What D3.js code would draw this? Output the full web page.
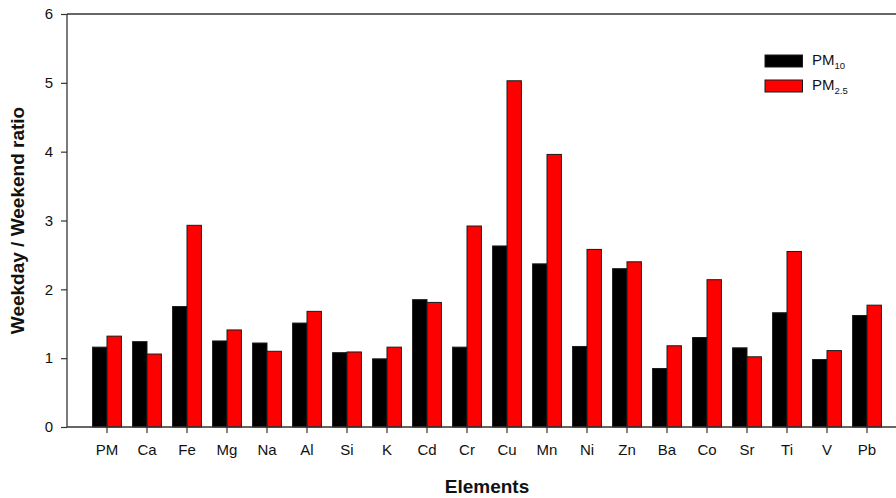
<!DOCTYPE html>
<html>
<head>
<meta charset="utf-8">
<script src="https://cdn.jsdelivr.net/npm/d3@7"></script>
<style>
  body { margin: 0; background: #fff; }
  svg { display: block; font-family: Arial, "Liberation Sans", sans-serif; }
</style>
</head>
<body>
<svg id="chart" width="896" height="498"></svg>
<script>
// Weekday / weekend concentration ratios per element
const elements = ["PM", "Ca", "Fe", "Mg", "Na", "Al", "Si", "K", "Cd", "Cr",
                  "Cu", "Mn", "Ni", "Zn", "Ba", "Co", "Sr", "Ti", "V", "Pb"];
const pm10 = [1.16, 1.24, 1.75, 1.25, 1.22, 1.51, 1.08, 0.99, 1.85, 1.16,
              2.63, 2.37, 1.17, 2.30, 0.85, 1.30, 1.15, 1.66, 0.98, 1.62];
const pm25 = [1.32, 1.06, 2.93, 1.41, 1.10, 1.68, 1.09, 1.16, 1.81, 2.92,
              5.03, 3.96, 2.58, 2.40, 1.18, 2.14, 1.02, 2.55, 1.11, 1.77];
const yTicks = [0, 1, 2, 3, 4, 5, 6];
const seriesKeys = ["pm10", "pm25"];
const seriesColors = ["#000000", "#ff0000"];

const svg = d3.select("#chart");
const mLeft = 67, mTop = 14, mBottom = 427, mRight = 907;

const x = d3.scaleBand().domain(elements).range([mLeft, mRight])
  .paddingInner(0).paddingOuter(0.5);
const xs = d3.scaleBand().domain(seriesKeys)
  .range([x.bandwidth() * 0.14, x.bandwidth() * 0.86]);
const y = d3.scaleLinear().domain([0, 6]).range([mBottom, mTop]);
const color = d3.scaleOrdinal().domain(seriesKeys).range(seriesColors);

const rows = elements.map((e, i) => ({ e, pm10: pm10[i], pm25: pm25[i] }));

// bars
const g = svg.append("g");
g.selectAll("g.grp").data(rows).join("g")
  .attr("class", "grp")
  .attr("transform", d => `translate(${x(d.e)},0)`)
  .selectAll("rect")
  .data(d => seriesKeys.map(k => ({ k, v: d[k] })))
  .join("rect")
  .attr("x", d => xs(d.k))
  .attr("width", xs.bandwidth())
  .attr("y", d => y(d.v))
  .attr("height", d => y(0) - y(d.v))
  .attr("fill", d => color(d.k))
  .attr("stroke", "#1a1a1a")
  .attr("stroke-width", 1);

// frame top line
svg.append("line")
  .attr("x1", mLeft).attr("x2", mRight)
  .attr("y1", mTop).attr("y2", mTop)
  .attr("stroke", "#333").attr("stroke-width", 1.3);

// axes
const yAxis = svg.append("g")
  .attr("transform", `translate(${mLeft},0)`)
  .call(d3.axisLeft(y).tickValues(yTicks).tickFormat(d3.format("d"))
        .tickSize(6).tickPadding(8));
const xAxis = svg.append("g")
  .attr("transform", `translate(0,${mBottom})`)
  .call(d3.axisBottom(x).tickSize(6).tickPadding(11));

[yAxis, xAxis].forEach(a => {
  a.select(".domain").attr("stroke", "#333").attr("stroke-width", 1.3);
  a.selectAll(".tick line").attr("stroke", "#333").attr("stroke-width", 1.2);
  a.selectAll(".tick text").attr("fill", "#111")
    .style("font-size", "15px").style("font-family", "Arial, 'Liberation Sans', sans-serif");
});
// flat axis ends
yAxis.select(".domain").attr("d", `M0,${mBottom}V${mTop}`);
xAxis.select(".domain").attr("d", `M${mLeft},0H${mRight}`);

// axis titles
svg.append("text")
  .attr("x", 487).attr("y", 493)
  .attr("text-anchor", "middle")
  .style("font-size", "19px").style("font-weight", "bold")
  .attr("fill", "#111")
  .text("Elements");

svg.append("text")
  .attr("transform", `translate(24,${(mTop + mBottom) / 2}) rotate(-90)`)
  .attr("text-anchor", "middle")
  .style("font-size", "19px").style("font-weight", "bold")
  .attr("fill", "#111")
  .text("Weekday / Weekend ratio");

// legend
const legendItems = [
  { key: "pm10", main: "PM", sub: "10" },
  { key: "pm25", main: "PM", sub: "2.5" }
];
const lg = svg.append("g").attr("transform", "translate(765,55)");
legendItems.forEach((it, i) => {
  const row = lg.append("g").attr("transform", `translate(0,${i * 25})`);
  row.append("rect")
    .attr("width", 37.5).attr("height", 12)
    .attr("fill", color(it.key))
    .attr("stroke", "#1a1a1a").attr("stroke-width", 1);
  const t = row.append("text")
    .attr("x", 47).attr("y", 9.5)
    .attr("fill", "#111")
    .style("font-size", "15px");
  t.append("tspan").text(it.main);
  t.append("tspan").attr("dy", 4.5).style("font-size", "9.5px").text(it.sub);
});
</script>
</body>
</html>
